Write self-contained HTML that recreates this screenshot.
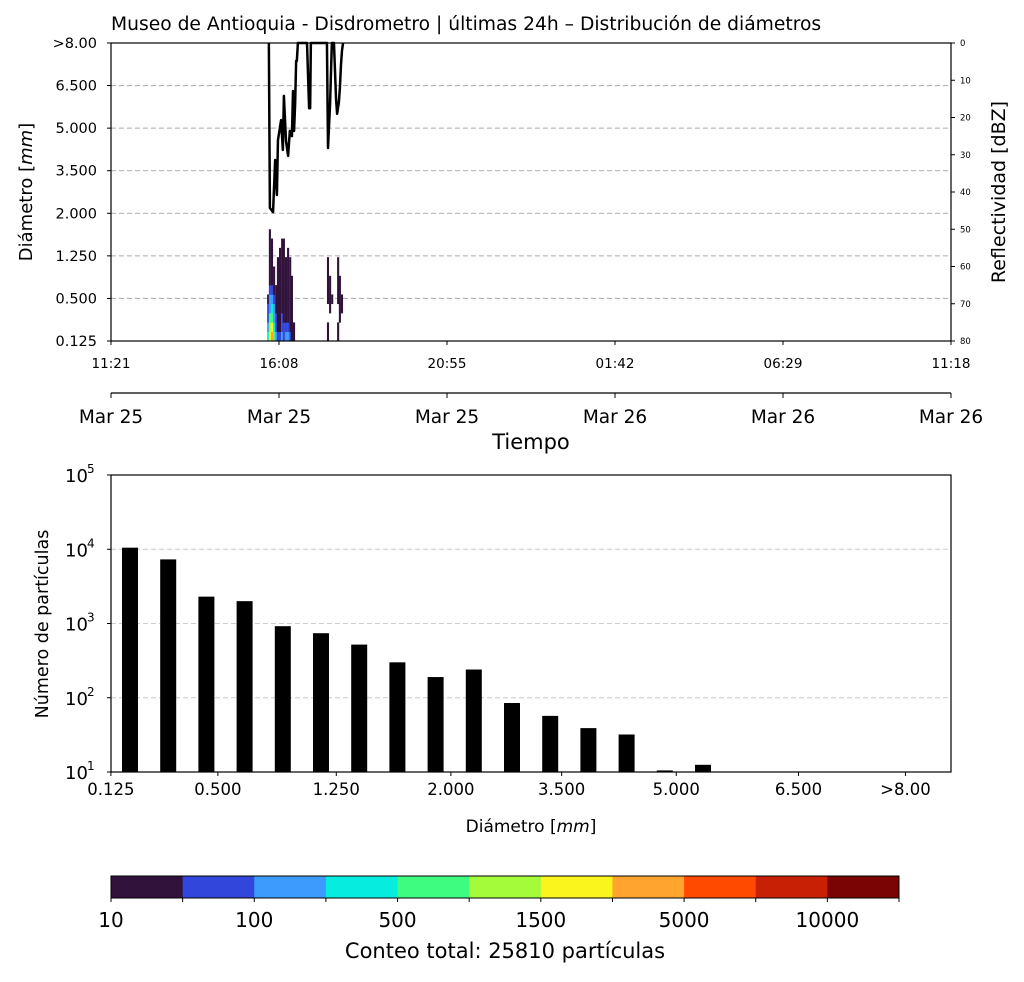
<!DOCTYPE html>
<html><head><meta charset="utf-8"><style>
body{margin:0;background:#fff;width:1024px;height:977px;overflow:hidden;font-family:"Liberation Sans","DejaVu Sans",sans-serif}
svg text{font-family:"DejaVu Sans","Liberation Sans",sans-serif;fill:#000}
</style></head><body>
<svg id="s" width="1024" height="977" xmlns="http://www.w3.org/2000/svg"></svg>
<script>
// ---- data ----
const diamLabels=[">8.00","6.500","5.000","3.500","2.000","1.250","0.500","0.125"];
const dbzTicks=[0,10,20,30,40,50,60,70,80];
const timeLabels=["11:21","16:08","20:55","01:42","06:29","11:18"];
const dateLabels=["Mar 25","Mar 25","Mar 25","Mar 26","Mar 26","Mar 26"];
// reflectivity line (hours since 11:21, dBZ)
const reflHours=[4.51,4.54,4.63,4.69,4.74,4.77,4.86,4.91,4.94,5.0,5.06,5.11,5.17,5.2,5.23,5.26,5.29,5.31,5.34,5.4,5.6,5.66,5.69,5.71,6.17,6.2,6.26,6.31,6.37,6.43,6.46,6.51,6.54,6.57,6.6,6.63];
const reflDbz=[0,44.3,45.4,31.4,40.8,26.1,20.7,28.7,14.2,26.3,30.3,23.6,25,12.9,23.6,16.6,4.8,4.8,0,0,0,17.5,17.5,0,0,28.2,16.1,0,0,15,19,16,12,6,2,0];
// heatmap columns: hour and counts per diameter bin (bottom upward)
const heatHour=[4.46,4.51,4.57,4.63,4.69,4.74,4.8,4.86,4.91,4.97,5.03,5.09,5.14,5.2,6.17,6.23,6.29,6.46,6.51,6.57];
const heatCounts=[
[300,200,60,30,15],
[1500,1200,500,200,100,40,20,15,15,15,15,15],
[3000,1500,600,250,120,50,20,15,15,15,15],
[800,400,200,100,40,20,15,15],
[150,80,40,15,15,15],
[30,20,15,15,15,15,15,15,15],
[40,20,15,15,15,15,15,15,15,15],
[120,90,40,15,15,15,15,15,15,15,15],
[40,30,15,15,15,15,15,15,15,15,15],
[100,60,15,15,15,15,15,15,15],
[110,70,15,15,15,15,15,15,15,15],
[40,15,15,15,15,15,15,15,15],
[15,15,15,15,15,15,15],
[15,15],
[15,15,0,0,15,15,15,15,15],
[0,0,0,15,15,15,15],
[0,0,0,0,15],
[15,15,0,0,15,15,15,15,15],
[0,0,15,15,15,15,15],
[0,0,0,15,15]];
// histogram
const histBins=["0.125","0.250","0.375","0.500","0.750","1.000","1.250","1.500","1.750","2.000","2.500","3.000","3.500","4.000","4.500","5.000","5.500","6.000","6.500","7.000","7.500","8.000"];
const histCounts=[10500,7300,2300,2000,920,740,520,300,190,240,85,57,39,32,10.5,12.5,0,0,0,0,0,0];
const histTickLabels=["0.125","0.500","1.250","2.000","3.500","5.000","6.500",">8.00"];
const histTickPos=[-0.5,2.3,5.4,8.4,11.3,14.3,17.5,20.3];
// colorbar
const cbBounds=[10,30,100,250,500,1000,1500,3000,5000,7500,10000,20000];
const cbColors=["#30123b","#3246dc","#3e9bfe","#06ecdf","#3efc7f","#a3fb3a","#f9f51d","#fea42f","#ff4a00","#c82004","#7a0403"];
const cbLabels=["10","100","500","1500","5000","10000"];

// ---- helpers ----
const S=document.getElementById('s');const NS="http://www.w3.org/2000/svg";
function el(t,a,txt){const e=document.createElementNS(NS,t);for(const k in a)e.setAttribute(k,a[k]);if(txt!==undefined)e.textContent=txt;S.appendChild(e);return e;}
const tx0=111,tx1=951,ty0=43,ty1=341;
const xT=h=>tx0+h/24*(tx1-tx0);
const yDbz=d=>ty0+d/80*(ty1-ty0);
const nBins=32,binH=(ty1-ty0)/nBins;
function colorFor(c){let i=0;while(i<cbColors.length-1&&c>=cbBounds[i+1])i++;return cbColors[i];}
for(let i=1;i<7;i++){const y=ty0+i*(ty1-ty0)/7;const g=el('line',{x1:tx0,x2:tx1,y1:y,y2:y,stroke:'#aaa','stroke-dasharray':'5,3','stroke-width':1});

}
heatHour.forEach((h,i)=>{heatCounts[i].forEach((c,b)=>{if(!c)return;const r=el('rect',{x:xT(h),y:ty1-(b+1)*binH,width:2.1,height:binH+0.3,fill:colorFor(c)});

});});
const pts=reflHours.map((h,i)=>xT(h)+','+yDbz(reflDbz[i])).join(' ');
const pl=el('polyline',{points:pts,fill:'none',stroke:'#000','stroke-width':2.5,'stroke-linejoin':'round'});


const fr=el('rect',{x:tx0,y:ty0,width:tx1-tx0,height:ty1-ty0,fill:'none',stroke:'#000','stroke-width':1.2});


diamLabels.forEach((l,i)=>{const y=ty0+i*(ty1-ty0)/7;el('line',{x1:tx0-4,x2:tx0,y1:y,y2:y,stroke:'#000'});
const t=el('text',{x:tx0-14,y:y+5,'text-anchor':'end','font-size':14.5},l);

});
dbzTicks.forEach(d=>{const y=yDbz(d);el('line',{x1:tx1,x2:tx1+4,y1:y,y2:y,stroke:'#000'});
const t=el('text',{x:tx1+9,y:y+3,'font-size':8.5},d);

});
timeLabels.forEach((l,i)=>{const xx=tx0+i*(tx1-tx0)/5;el('line',{x1:xx,x2:xx,y1:ty1,y2:ty1+4,stroke:'#000'});
const t=el('text',{x:xx,y:ty1+27,'text-anchor':'middle','font-size':13.5},l);

});
el('line',{x1:tx0,x2:tx1,y1:393,y2:393,stroke:'#000','stroke-width':1.2});
dateLabels.forEach((l,i)=>{const xx=tx0+i*(tx1-tx0)/5;el('line',{x1:xx,x2:xx,y1:393,y2:398,stroke:'#000'});
const t=el('text',{x:xx,y:423,'text-anchor':'middle','font-size':18.5},l);

});
let t;
t=el('text',{x:531,y:449,'text-anchor':'middle','font-size':21},'Tiempo');
t=el('text',{x:111,y:30,'font-size':18.7},'Museo de Antioquia - Disdrometro | últimas 24h – Distribución de diámetros');
t=el('text',{x:0,y:0,'text-anchor':'middle','font-size':18,transform:'translate(32,192) rotate(-90)'});t.innerHTML='Diámetro [<tspan font-style="italic">mm</tspan>]';
t=el('text',{x:0,y:0,'text-anchor':'middle','font-size':19,transform:'translate(1005,192) rotate(-90)'},'Reflectividad [dBZ]');

// bottom histogram
const bx0=111,bx1=951,by0=475,by1=772;
const yLog=v=>by1-(Math.log10(v)-1)/4*(by1-by0);
const xBin=i=>130+i*38.2;
for(let e=2;e<=4;e++){const y=yLog(Math.pow(10,e));const g=el('line',{x1:bx0,x2:bx1,y1:y,y2:y,stroke:'#ccc','stroke-dasharray':'5,3'});}
histCounts.forEach((c,i)=>{if(c<=10)return;const y=yLog(c);const r=el('rect',{x:xBin(i)-8,y:y,width:16,height:by1-y,fill:'#000'});

});
el('rect',{x:bx0,y:by0,width:bx1-bx0,height:by1-by0,fill:'none',stroke:'#000','stroke-width':1.2});
for(let e=1;e<=5;e++){const y=yLog(Math.pow(10,e));el('line',{x1:bx0-4,x2:bx0,y1:y,y2:y,stroke:'#000'});
const g=el('text',{x:bx0-46,y:y+7,'font-size':18},'10');
el('text',{x:bx0-24,y:y-2,'font-size':12},e);}
histTickLabels.forEach((l,i)=>{const x=xBin(histTickPos[i]);el('line',{x1:x,x2:x,y1:by1,y2:by1+4,stroke:'#000'});
const g=el('text',{x:x,y:by1+23,'text-anchor':'middle','font-size':16.5},l);});
t=el('text',{x:531,y:832,'text-anchor':'middle','font-size':17});t.innerHTML='Diámetro [<tspan font-style="italic">mm</tspan>]';
t=el('text',{x:0,y:0,'text-anchor':'middle','font-size':17.5,transform:'translate(48,624) rotate(-90)'},'Número de partículas');

// colorbar
const cx0=111,cx1=899,cw=(cx1-cx0)/cbColors.length;
cbColors.forEach((c,i)=>{const r=el('rect',{x:cx0+i*cw,y:876,width:cw+0.5,height:22,fill:c});});
el('rect',{x:cx0,y:876,width:cx1-cx0,height:22,fill:'none',stroke:'#000'});
for(let i=0;i<=cbColors.length;i++){const x=cx0+i*cw;el('line',{x1:x,x2:x,y1:898,y2:902,stroke:'#000'});}
cbLabels.forEach((l,i)=>{const g=el('text',{x:cx0+2*i*cw,y:927,'text-anchor':'middle','font-size':20},l);});
t=el('text',{x:505,y:958,'text-anchor':'middle','font-size':21},'Conteo total: 25810 partículas');
</script>
</body></html>
